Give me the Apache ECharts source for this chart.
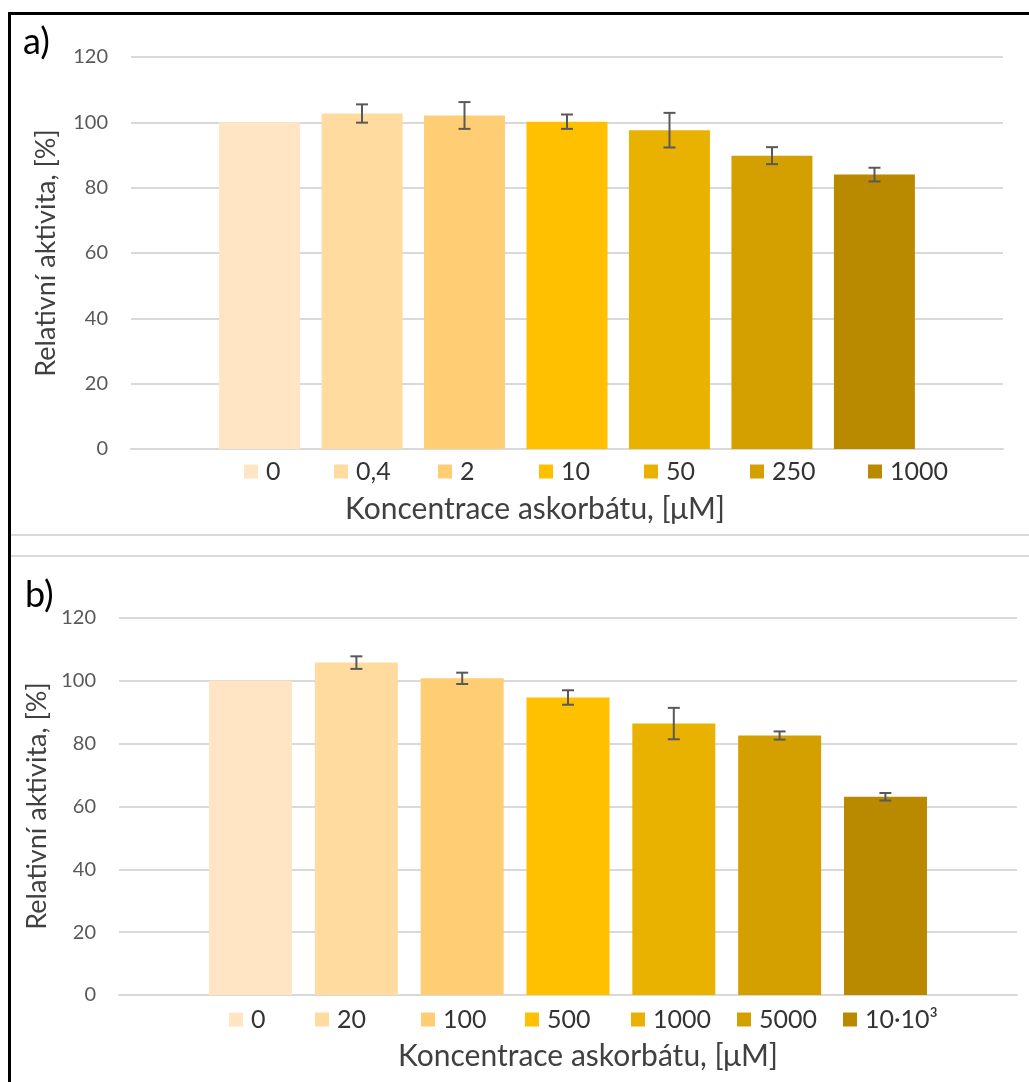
<!DOCTYPE html>
<html>
<head>
<meta charset="utf-8">
<script src="https://cdn.jsdelivr.net/npm/echarts@6/dist/echarts.min.js"></script>
<style>
    html, body { margin: 0; padding: 0; background: #fff; }
    #chart { width: 1029px; height: 1082px; }
</style>
</head>
<body>
<div id="chart"></div>
<script>
    // panel a) data
    var labelsA = ['0', '0,4', '2', '10', '50', '250', '1000'];
    var valuesA = [100, 102.7, 102.1, 100.2, 97.6, 89.8, 84.0];
    var errorsA = [0, 2.8, 4.1, 2.2, 5.3, 2.6, 2.1];

    // panel b) data
    var labelsB = ['0', '20', '100', '500', '1000', '5000', '10·10³'];
    var valuesB = [100, 105.8, 100.8, 94.7, 86.4, 82.6, 63.1];
    var errorsB = [0, 2.0, 1.8, 2.3, 5.0, 1.3, 1.2];

    // y axis ticks
    var yMin = 0;
    var yMax = 120;
    var yStep = 20;

    var colors = ['#FFE5C3', '#FFDBA0', '#FFCE74', '#FFC000', '#EAB200', '#D4A000', '#B98A00'];
    var font = 'Lato, "Open Sans", sans-serif';

    var chart = echarts.init(document.getElementById('chart'));

    // series names get a panel prefix so that "0" / "1000" in a) and b) stay separate
    function barSeries(prefix, labels, values, axis, width, gap) {
        return labels.map(function (name, i) {
            return {
                name: prefix + name,
                type: 'bar',
                xAxisIndex: axis,
                yAxisIndex: axis,
                barWidth: width,
                barGap: gap,
                itemStyle: { color: colors[i] },
                data: [values[i]],
                z: 2
            };
        });
    }

    function errorSeries(values, errors, axis, step) {
        var data = values.map(function (v, i) { return [0, v, errors[i], i]; });
        return {
            type: 'custom',
            xAxisIndex: axis,
            yAxisIndex: axis,
            encode: { x: 0, y: 1 },
            silent: true,
            z: 5,
            data: data,
            renderItem: function (params, api) {
                var v = api.value(1), e = api.value(2), i = api.value(3);
                if (!e) return null;
                var hi = api.coord([0, v + e]);
                var lo = api.coord([0, v - e]);
                var x = hi[0] + (i - 3) * step;
                var st = { stroke: '#595959', lineWidth: 2 };
                return {
                    type: 'group',
                    children: [
                        { type: 'line', shape: { x1: x, y1: hi[1], x2: x, y2: lo[1] }, style: st },
                        { type: 'line', shape: { x1: x - 6, y1: hi[1], x2: x + 6, y2: hi[1] }, style: st },
                        { type: 'line', shape: { x1: x - 6, y1: lo[1], x2: x + 6, y2: lo[1] }, style: st }
                    ]
                };
            }
        };
    }

    function legends(prefix, labels, lefts, top) {
        return labels.map(function (name, i) {
            return {
                data: [prefix + name],
                formatter: function (n) { return n.slice(prefix.length); },
                left: lefts[i],
                top: top,
                padding: 0,
                icon: 'rect',
                itemWidth: 14,
                itemHeight: 14,
                textStyle: { fontFamily: font, fontSize: 25, color: '#333', padding: [0, 0, 0, 3] }
            };
        });
    }

    var legendLeftA = [244, 334, 438, 539, 644, 750, 868];
    var legendLeftB = [229, 315, 421, 525, 631, 737, 843];

    function yAxisCfg(grid) {
        return {
            type: 'value',
            gridIndex: grid,
            min: yMin,
            max: yMax,
            interval: yStep,
            axisLine: { show: false },
            axisTick: { show: false },
            axisLabel: { fontFamily: font, fontSize: 20, color: '#595959', margin: 23 },
            splitLine: { lineStyle: { color: '#D9D9D9', width: 2 } }
        };
    }

    function xAxisCfg(grid) {
        return {
            type: 'category',
            gridIndex: grid,
            data: [''],
            axisLine: { lineStyle: { color: '#D9D9D9', width: 2 } },
            axisTick: { show: false },
            axisLabel: { show: false }
        };
    }

    var option = {
        animation: false,
        backgroundColor: '#fff',
        grid: [
            { left: 131, right: 26, top: 57, bottom: 633 },
            { left: 119, right: 12, top: 618, bottom: 87 }
        ],
        xAxis: [xAxisCfg(0), xAxisCfg(1)],
        yAxis: [yAxisCfg(0), yAxisCfg(1)],
        legend: legends('a:', labelsA, legendLeftA, 459).concat(legends('b:', labelsB, legendLeftB, 1007)),
        series: barSeries('a:', labelsA, valuesA, 0, 81, '26.5%')
            .concat(barSeries('b:', labelsB, valuesB, 1, 83, '27.5%'))
            .concat([errorSeries(valuesA, errorsA, 0, 102.5), errorSeries(valuesB, errorsB, 1, 105.8)]),
        graphic: [
            // frame lines
            { type: 'rect', shape: { x: 8, y: 12, width: 1021, height: 3 }, style: { fill: '#000' } },
            { type: 'rect', shape: { x: 8, y: 12, width: 3, height: 1070 }, style: { fill: '#000' } },
            { type: 'rect', shape: { x: 11, y: 534, width: 1018, height: 2 }, style: { fill: '#D9D9D9' } },
            { type: 'rect', shape: { x: 11, y: 555, width: 1018, height: 2 }, style: { fill: '#D9D9D9' } },
            // panel labels
            { type: 'text', left: 23, top: 24, style: { text: 'a)', fontFamily: font, fontSize: 36, fill: '#000' } },
            { type: 'text', left: 25, top: 577, style: { text: 'b)', fontFamily: font, fontSize: 36, fill: '#000' } },
            // axis titles
            { type: 'text', x: 46, y: 253, rotation: Math.PI / 2,
              style: { text: 'Relativní aktivita, [%]', fontFamily: font, fontSize: 27, fill: '#404040', align: 'center', verticalAlign: 'middle' } },
            { type: 'text', x: 37, y: 806, rotation: Math.PI / 2,
              style: { text: 'Relativní aktivita, [%]', fontFamily: font, fontSize: 27, fill: '#404040', align: 'center', verticalAlign: 'middle' } },
            { type: 'text', x: 535, y: 509,
              style: { text: 'Koncentrace askorbátu, [μM]', fontFamily: font, fontSize: 30, fill: '#404040', align: 'center', verticalAlign: 'middle' } },
            { type: 'text', x: 588, y: 1056,
              style: { text: 'Koncentrace askorbátu, [μM]', fontFamily: font, fontSize: 30, fill: '#404040', align: 'center', verticalAlign: 'middle' } }
        ]
    };

    chart.setOption(option);
</script>
</body>
</html>
